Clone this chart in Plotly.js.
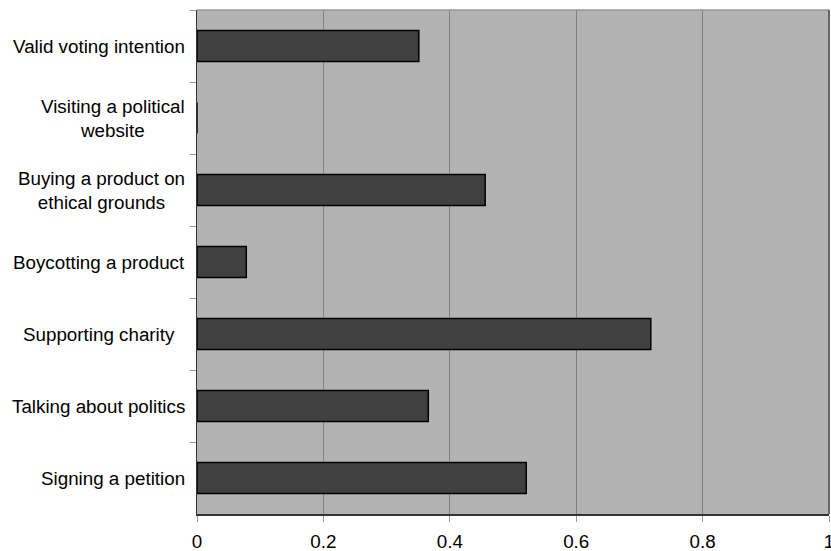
<!DOCTYPE html>
<html>
<head>
<meta charset="utf-8">
<script src="https://cdn.plot.ly/plotly-3.0.1.min.js"></script>
<style>html,body{margin:0;padding:0;background:#fff;}</style>
</head>
<body>
<div id="chart" style="width:831px;height:551px;"></div>
<script>
const categories = [
  "Valid voting intention",
  "Visiting a political<br>website",
  "Buying a product on<br>ethical grounds",
  "Boycotting a product",
  "Supporting charity\u00a0\u00a0",
  "Talking about politics",
  "Signing a petition"
];
const values = [0.351, 0, 0.456, 0.078, 0.718, 0.366, 0.521];
const xTickVals = [0, 0.2, 0.4, 0.6, 0.8, 1];
const xTickText = ["0", "0.2", "0.4", "0.6", "0.8", "1"];

const font = {family: "Liberation Sans, Arial, sans-serif", size: 18.8, color: "#000"};

const trace = {
  type: "bar",
  orientation: "h",
  y: categories,
  x: values,
  width: 0.43,
  marker: {color: "#404040", line: {color: "#000", width: 1.5}},
  hoverinfo: "none"
};

const annotations = categories.map(c => ({
  xref: "paper", yref: "y", x: 0, y: c,
  text: c, showarrow: false, xanchor: "right", yanchor: "middle",
  align: "center", xshift: -10, font: font
}));

const layout = {
  width: 831, height: 551,
  margin: {l: 197, r: 2, t: 10, b: 37, pad: 0},
  paper_bgcolor: "#fff",
  plot_bgcolor: "#b3b3b3",
  font: font,
  showlegend: false,
  xaxis: {
    range: [0, 1], tickvals: xTickVals, ticktext: xTickText,
    showgrid: true, gridcolor: "#808080", gridwidth: 1,
    zeroline: false, showline: true, linecolor: "#333", linewidth: 1.5,
    ticks: "outside", ticklen: 6, tickcolor: "#999", tickwidth: 1,
    ticklabelstandoff: 4, ticklabeloverflow: "allow", tickfont: font, fixedrange: true
  },
  yaxis: {
    type: "category", autorange: "reversed",
    showgrid: false, zeroline: false, showline: true, linecolor: "#333", linewidth: 1.5,
    ticks: "outside", tickson: "boundaries", ticklen: 6, tickcolor: "#999", tickwidth: 1,
    showticklabels: false, fixedrange: true
  },
  shapes: [
    {type: "line", xref: "paper", yref: "paper", x0: 0, x1: 1, y0: 1, y1: 1, line: {color: "#999", width: 1.5}, layer: "above"},
    {type: "line", xref: "paper", yref: "paper", x0: 1, x1: 1, y0: 0, y1: 1, line: {color: "#666", width: 2}, layer: "above"}
  ],
  annotations: annotations
};

Plotly.newPlot("chart", [trace], layout, {displayModeBar: false, staticPlot: true});
</script>
</body>
</html>
